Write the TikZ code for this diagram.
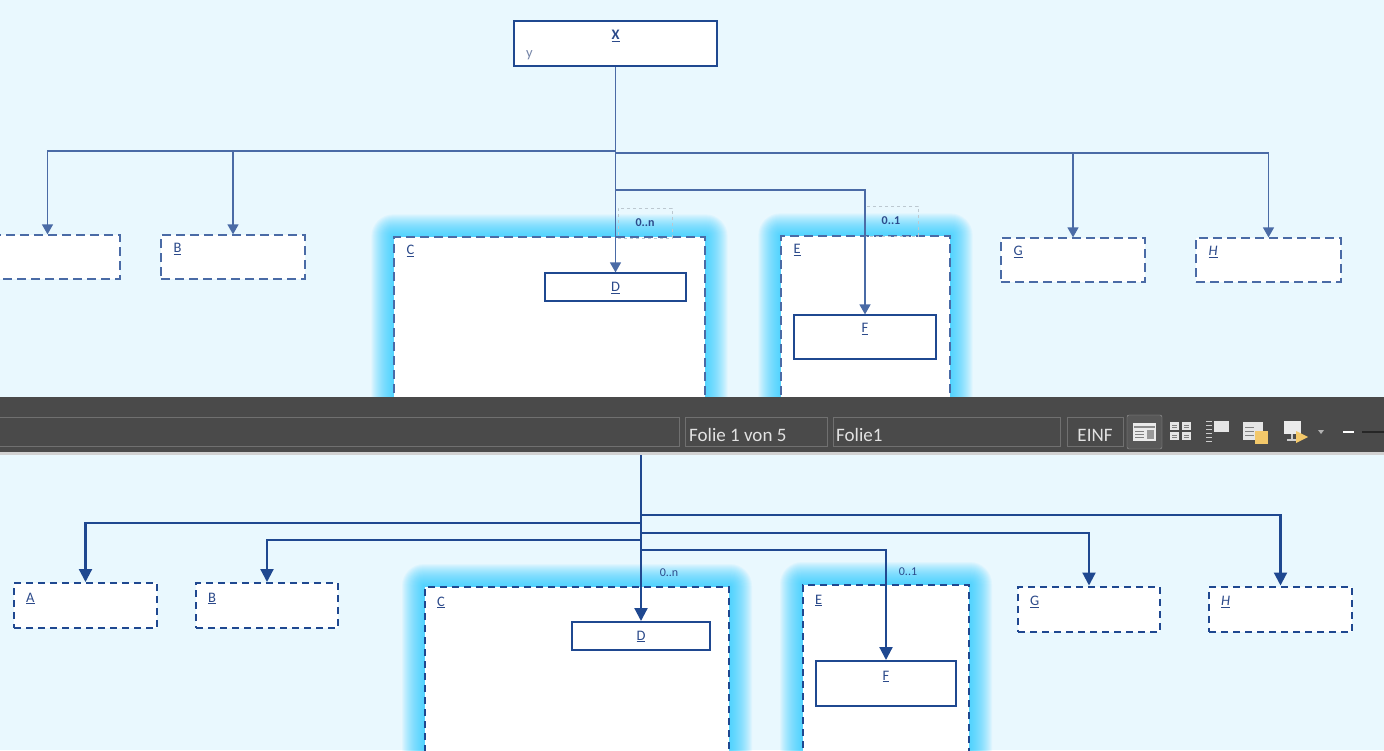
\documentclass[tikz,border=0pt]{standalone}
\usepackage{fontspec}
\setmainfont{Carlito}
\usetikzlibrary{arrows.meta,backgrounds}
\definecolor{bgcyan}{HTML}{E9F8FE}
\definecolor{linkdark}{HTML}{1F4890}
\definecolor{linklight}{HTML}{4A6BA6}
\definecolor{labelblue}{HTML}{2C4A8A}
\definecolor{greyblue}{HTML}{7585A8}
\definecolor{multgray}{HTML}{BCC8D0}
\definecolor{glowcyan}{HTML}{22CCFF}
\definecolor{barbg}{HTML}{4A4A4A}
\definecolor{barline}{HTML}{707070}
\definecolor{bartext}{HTML}{E2E2E2}
\definecolor{noteyellow}{HTML}{F3C86A}
\tikzset{
  box1/.style={draw=linklight, fill=white, line width=1.3pt, dash pattern=on 9pt off 5pt,
    inner sep=0pt, minimum width=144pt, minimum height=44pt},
  solid1/.style={draw=linkdark, fill=white, line width=1.2pt, inner sep=0pt},
  box2/.style={draw=linkdark, fill=white, line width=2pt, dash pattern=on 7pt off 5pt,
    inner sep=0pt, minimum width=142pt, minimum height=45pt},
  solid2/.style={draw=linkdark, fill=white, line width=2pt, inner sep=0pt},
  lbl/.style={font=\fontsize{14.5}{16}\selectfont, text=labelblue, inner sep=0pt, anchor=base west},
  clbl/.style={font=\fontsize{14.5}{16}\selectfont, text=labelblue, inner sep=0pt, anchor=base},
  link1/.style={draw=linklight, line width=1.4pt, -{Triangle[width=11pt,length=10pt]}},
  link2/.style={draw=linkdark, line width=2.2pt, -{Triangle[width=13pt,length=13pt]}},
  mult/.style={font=\fontsize{12}{14}\selectfont, text=labelblue, inner sep=0pt},
  multbox/.style={draw=multgray, dashed, line width=0.8pt, minimum width=54pt, minimum height=30pt},
  field/.style={draw=barline, line width=1pt},
  bartxt/.style={font=\fontsize{19}{22}\selectfont, text=bartext, inner sep=0pt, anchor=base west},
}
\begin{document}
\begin{tikzpicture}[x=1pt,y=-1pt]
  \useasboundingbox (0,0) rectangle (1384,750);

  % upper view
  \node[solid1, minimum width=203pt, minimum height=45pt] (X1) at (615.5,43.5) {};
  \node[clbl] (lX1) at ([shift={(0,19)}]X1.north) {\textbf{\underline{X}}};
  \node[lbl, text=greyblue] (ly1) at (526,57) {y};

  \node[box1, minimum width=145pt] (A1) at (47.5,257) {};
  \node[box1] (B1) at (233,257) {};
  \node[lbl] (lB1) at ([shift={(13,18)}]B1.north west) {\underline{B}};
  \node[box1, minimum width=311pt, minimum height=183pt] (C1) at (549.5,328.5) {};
  \node[lbl] (lC1) at ([shift={(13,18)}]C1.north west) {\underline{C}};
  \node[solid1, minimum width=141pt, minimum height=28pt] (D1) at (615.5,287) {};
  \node[clbl] (lD1) at ([shift={(0,19)}]D1.north) {\underline{D}};
  \node[box1, minimum width=169pt, minimum height=184pt] (E1) at (865.5,328) {};
  \node[lbl] (lE1) at ([shift={(13,18)}]E1.north west) {\underline{E}};
  \node[solid1, minimum width=142pt, minimum height=44pt] (F1) at (865,337) {};
  \node[clbl] (lF1) at ([shift={(0,18)}]F1.north) {\underline{F}};
  \node[box1] (G1) at (1073,260) {};
  \node[lbl] (lG1) at ([shift={(13,18)}]G1.north west) {\underline{G}};
  \node[box1, minimum width=145pt] (H1) at (1268.5,260) {};
  \node[lbl] (lH1) at ([shift={(13,18)}]H1.north west) {\underline{\textit{H}}};

  \node[multbox, mult] (m1) at (645,223) {\textbf{0..n}};
  \node[multbox, mult] (m2) at (891,221) {\textbf{0..1}};

  \draw[link1] (X1.south) -- (D1.north);
  \draw[link1] (X1.south |- 0,151) -| (A1.north);
  \draw[link1] (X1.south |- 0,151) -| (B1.north);
  \draw[link1] (X1.south |- 0,153) -| (G1.north);
  \draw[link1] (X1.south |- 0,153) -| (H1.north);
  \draw[link1] (X1.south |- 0,190) -| (F1.north);

  % lower view
  \node[box2, minimum width=143pt] (A2) at (85.5,605.5) {};
  \node[lbl] (lA2) at ([shift={(13,20)}]A2.north west) {\underline{A}};
  \node[box2] (B2) at (267,605.5) {};
  \node[lbl] (lB2) at ([shift={(13,20)}]B2.north west) {\underline{B}};
  \node[box2, minimum width=304pt, minimum height=170pt] (C2) at (577,672) {};
  \node[lbl] (lC2) at ([shift={(13,20)}]C2.north west) {\underline{C}};
  \node[solid2, minimum width=138pt, minimum height=28pt] (D2) at (641,636) {};
  \node[clbl] (lD2) at ([shift={(0,19)}]D2.north) {\underline{D}};
  \node[box2, minimum width=166pt, minimum height=172pt] (E2) at (886,671) {};
  \node[lbl] (lE2) at ([shift={(13,20)}]E2.north west) {\underline{E}};
  \node[solid2, minimum width=140pt, minimum height=45pt] (F2) at (886,683.5) {};
  \node[clbl] (lF2) at ([shift={(0,20)}]F2.north) {\underline{F}};
  \node[box2] (G2) at (1089,609) {};
  \node[lbl] (lG2) at ([shift={(13,20)}]G2.north west) {\underline{G}};
  \node[box2, minimum width=143pt] (H2) at (1280.5,609) {};
  \node[lbl] (lH2) at ([shift={(13,20)}]H2.north west) {\underline{\textit{H}}};

  \node[mult] (m3) at (669,573) {0..n};
  \node[mult] (m4) at (908,572) {0..1};

  \coordinate (top2) at (641,450);
  \draw[link2] (top2) -- (D2.north);
  \draw[link2] (top2 |- 0,515) -| (H2.north);
  \draw[link2] (top2 |- 0,523) -| (A2.north);
  \draw[link2] (top2 |- 0,533) -| (G2.north);
  \draw[link2] (top2 |- 0,540) -| (B2.north);
  \draw[link2] (top2 |- 0,550) -| (F2.north);

  \begin{scope}[on background layer]
    \fill[bgcyan] (0,0) rectangle (1384,750);
    \foreach \n in {C1,E1,C2,E2}
      \foreach \g in {1,...,22}
        \fill[glowcyan, opacity=0.055, rounded corners=\g pt]
          ([shift={(-\g,-\g)}]\n.north west) rectangle ([shift={(\g,\g)}]\n.south east);
  \end{scope}

  % status bar
  \fill[barbg] (0,397) rectangle (1384,452);
  \fill[black!18] (0,452) rectangle (1384,455);
  \draw[field] (-2,417) rectangle (679,446);
  \draw[field] (685,417) rectangle (827,446);
  \draw[field] (833,417) rectangle (1060,446);
  \draw[field] (1067,417) rectangle (1123,446);
  \node[bartxt] (s1) at (689,441) {Folie 1 von 5};
  \node[bartxt] (s2) at (836,441) {Folie1};
  \node[bartxt, anchor=base] (s3) at (1095,441) {EINF};
  \draw[white!45!barbg, fill=white!8!barbg, rounded corners=2pt] (1127,415) rectangle (1162,449);
  \fill[white!92!black] (1133,423) rectangle (1156,441);
  \fill[black!45] (1134,426) rectangle (1155,428);
  \fill[black!40] (1147,430) rectangle (1154,439);
  \foreach \yy in {431,434,437} \draw[black!50, line width=1pt] (1135,\yy) -- (1144,\yy);
  \foreach \xx/\yy in {1170/422,1182/422,1170/432,1182/432} {
    \fill[white!90!black] (\xx,\yy) rectangle ++(9,8);
    \draw[black!50, line width=0.8pt] (\xx+2,\yy+3) -- ++(5,0) (\xx+2,\yy+5.5) -- ++(5,0);
  }
  \foreach \yy in {421,425,429,433,437,441} \draw[white!80!black, line width=1pt] (1206,\yy) -- (1212,\yy);
  \fill[white!90!black] (1214,421) rectangle (1229,432);
  \fill[white!90!black] (1243,422) rectangle (1263,440);
  \foreach \yy in {427,431,435} \draw[black!50, line width=1pt] (1245,\yy) -- (1254,\yy);
  \fill[noteyellow] (1255,431) rectangle (1268,444);
  \fill[white!92!black] (1284,421) rectangle (1301,434);
  \draw[white!80!black, line width=1.5pt] (1292,434) -- (1292,440) (1287,440) -- (1297,440);
  \fill[noteyellow] (1296,431) -- (1308,437) -- (1296,443) -- cycle;
  \fill[white!70!black] (1318,430) -- (1324,430) -- (1321,434) -- cycle;
  \draw[white, line width=1.2pt] (1343,432) -- (1354,432);
  \draw[black!85, line width=1.2pt] (1362,432) -- (1384,432);
\end{tikzpicture}
\end{document}
